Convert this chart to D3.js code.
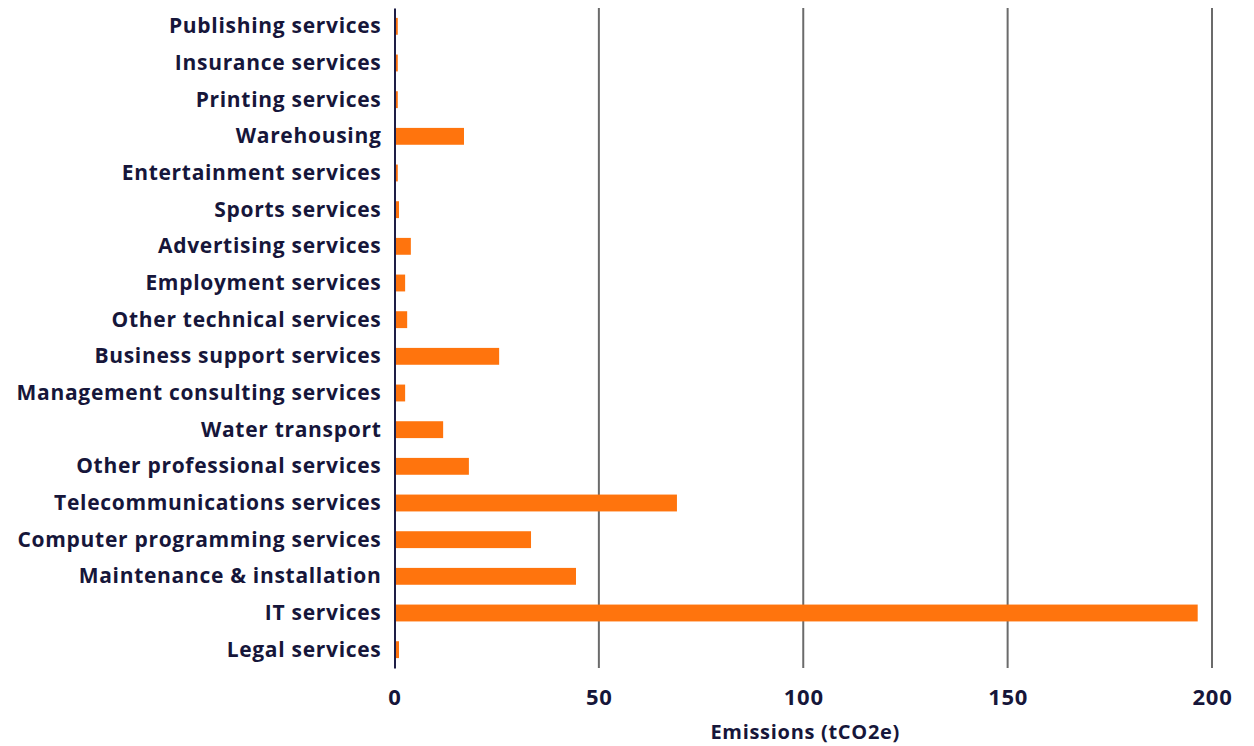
<!DOCTYPE html>
<html>
<head>
<meta charset="utf-8">
<script src="https://cdn.jsdelivr.net/npm/d3@7"></script>
<style>
  html, body { margin: 0; padding: 0; background: #ffffff; }
  svg { display: block; }
  text { font-family: "Open Sans", "DejaVu Sans", sans-serif; font-weight: 700; fill: #16163a; letter-spacing: 0.7px; }
</style>
</head>
<body>
<svg id="chart" width="1254" height="746"></svg>
<script>
// Supplier categories, top to bottom
const categories = [
  "Publishing services",
  "Insurance services",
  "Printing services",
  "Warehousing",
  "Entertainment services",
  "Sports services",
  "Advertising services",
  "Employment services",
  "Other technical services",
  "Business support services",
  "Management consulting services",
  "Water transport",
  "Other professional services",
  "Telecommunications services",
  "Computer programming services",
  "Maintenance & installation",
  "IT services",
  "Legal services"
];

// Emissions per category (tCO2e)
const emissions = [
  0.8, 0.8, 0.8, 17.0, 0.8, 1.1, 4.0, 2.6, 3.1, 25.6,
  2.6, 11.9, 18.2, 69.1, 33.4, 44.4, 196.5, 1.1
];

const xTicks = [0, 50, 100, 150, 200];
const xTitle = "Emissions (tCO2e)";

const svg = d3.select("#chart");
const margin = { left: 394.5, right: 42, top: 8, bottom: 78 };
const W = 1254, H = 746;

const x = d3.scaleLinear().domain([0, 200]).range([margin.left, W - margin.right]);
const y = d3.scaleBand().domain(categories).range([margin.top, H - margin.bottom]).paddingInner(0.54).paddingOuter(0.27);

// vertical gridlines
svg.append("g")
  .selectAll("line")
  .data(xTicks.filter(d => d > 0))
  .join("line")
  .attr("x1", d => x(d)).attr("x2", d => x(d))
  .attr("y1", margin.top).attr("y2", H - margin.bottom)
  .attr("stroke", "#6b6b6b")
  .attr("stroke-width", 2);

// bars
const data = categories.map((c, i) => ({ c, v: emissions[i] }));
svg.append("g")
  .selectAll("rect")
  .data(data)
  .join("rect")
  .attr("x", x(0))
  .attr("y", d => y(d.c))
  .attr("width", d => x(d.v) - x(0))
  .attr("height", y.bandwidth())
  .attr("fill", "#ff740d");

// category axis
const yAxis = svg.append("g")
  .attr("transform", `translate(${x(0)},0)`)
  .call(d3.axisLeft(y).tickSize(0).tickPadding(13));
yAxis.select(".domain").attr("stroke", "#1e1e46").attr("stroke-width", 2);
yAxis.selectAll("text").attr("font-size", 21).attr("dy", "0.34em").style("fill", "#16163a");

// value axis
const xAxis = svg.append("g")
  .attr("transform", `translate(0,${H - margin.bottom})`)
  .call(d3.axisBottom(x).tickValues(xTicks).tickSize(0).tickPadding(21));
xAxis.select(".domain").remove();
xAxis.selectAll("text").attr("font-size", 22).style("fill", "#16163a");

svg.append("text")
  .attr("x", (x(0) + x(200)) / 2 + 2)
  .attr("y", 739)
  .attr("text-anchor", "middle")
  .attr("font-size", 20)
  .text(xTitle);
</script>
</body>
</html>
